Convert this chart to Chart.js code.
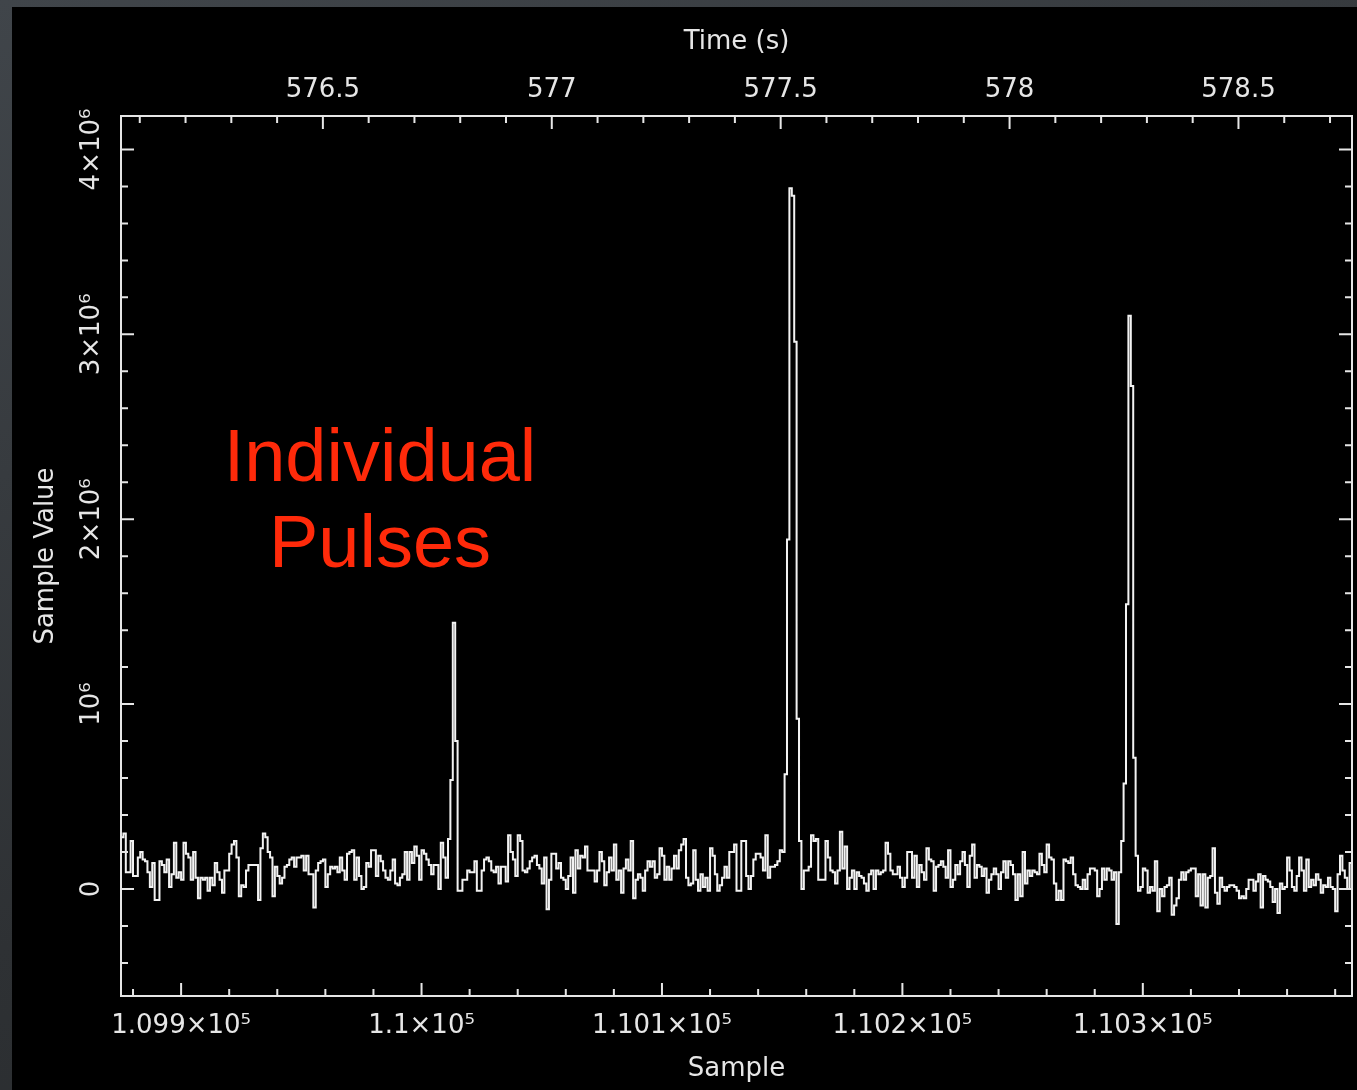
<!DOCTYPE html>
<html lang="en">
<head>
    <meta charset="UTF-8">
    <meta name="viewport" content="width=device-width, initial-scale=1.0">
    <title>Individual Pulses</title>
    <script src="https://cdn.jsdelivr.net/npm/chart.js@4"></script>

    <style>
body {
    margin: 0;
    width: 1357px;
    height: 1090px;
    overflow: hidden;
    position: relative;
    background: linear-gradient(160deg, #40454a 0%, #2e3134 60%, #25282a 100%);
}

.panel {
    position: absolute;
    left: 12px;
    top: 7px;
    width: 1345px;
    height: 1083px;
    background-color: #000;
}

#pulseChart {
    position: absolute;
    left: 0;
    top: 0;
}

.note {
    position: absolute;
    left: 168px;
    top: 406px;
    width: 400px;
    text-align: center;
    color: #ff2a0a;
    font-family: "Liberation Sans", Arial, sans-serif;
    font-size: 74px;
    line-height: 86px;
}
    </style>
</head>
<body>

    <div class="panel">
        <canvas id="pulseChart" width="1345" height="1083"></canvas>
        <div class="note">Individual<br>Pulses</div>
    </div>

    <script>
// Sample index range and value range of the plot
const firstSample = 109875;
const lastSample = 110387;
const valueRange = [-579000, 4181000];
// Time axis (top) covers the same samples
const timeRange = [576.059, 578.748];

// Labelled ticks on each axis
const sampleLabels = [109900, 110000, 110100, 110200, 110300];
const timeLabels = [576.5, 577, 577.5, 578, 578.5];
const valueLabels = [0, 1000000, 2000000, 3000000, 4000000];

// Sample values, in units of 10^4, one per sample starting at firstSample
const valueUnit = 1e4;
const sampleValues = [
    28, 30, 9, 9, 26, 7, 7, 17, 20, 16, 15, 9, 1, 14, -6, -6,
    15, 13, 9, 16, 1, 8, 25, 6, 9, 5, 25, 19, 17, 5, 20, 6,
    -5, 6, 5, 6, -1, 6, 2, 14, 9, 5, -2, 10, 10, 19, 24, 26,
    17, -4, 2, 1, 10, 13, 13, 13, 13, -6, 22, 30, 28, 20, 17, -4,
    12, 7, 3, 6, 12, 13, 16, 17, 12, 17, 17, 18, 10, 18, 8, 8,
    -10, 10, 14, 15, 16, 1, 8, 12, 11, 12, 9, 17, 10, 5, 19, 20,
    21, 5, 17, 7, 0, 1, 14, 12, 21, 21, 7, 18, 15, 10, 6, 5,
    10, 16, 3, 2, 6, 8, 20, 5, 20, 14, 23, 18, 5, 21, 19, 16,
    13, 8, 13, 13, 0, 25, 17, 6, 27, 59, 144, 80, -1, -1, 5, 5,
    10, 9, 9, 15, -1, -1, 10, 16, 17, 15, 10, 9, 12, 3, 12, 12,
    4, 29, 20, 16, 7, 29, 26, 10, 9, 11, 15, 17, 18, 13, 11, 3,
    17, -11, 5, 19, 19, 11, 14, 6, 5, 0, 7, 17, -2, 21, 11, 18,
    17, 23, 10, 10, 10, 4, 10, 20, 15, 2, 9, 17, 10, 24, 5, 10,
    -2, 11, 16, 10, 26, -5, 5, 8, 6, -1, 10, 15, 12, 15, 6, 8,
    22, 18, 5, 12, 5, 11, 18, 11, 21, 24, 27, 6, 2, 3, 21, 5,
    -1, 8, 1, 6, -1, 22, 18, 8, -1, 2, 6, 12, 6, 20, 20, 24,
    -1, -1, 26, 26, 7, 0, 7, 16, 19, 19, 17, 10, 29, 6, 12, 12,
    13, 15, 21, 20, 62, 189, 379, 375, 296, 92, 26, 0, 10, 10, 12, 29,
    26, 27, 5, 5, 5, 26, 17, 10, 9, 3, 10, 31, 11, 23, 0, 6,
    10, 0, 9, 7, 6, 3, -1, 8, 10, 0, 10, 8, 9, 10, 25, 19,
    10, 8, 8, 12, 6, 1, 6, 20, 20, 6, 18, 1, 13, 9, 5, 22,
    16, 15, -1, 12, 13, 15, 12, 6, 21, 1, 5, 13, 8, 15, 20, 13,
    1, 18, 24, 6, 13, 12, 7, 11, -2, 5, 8, 11, 8, 0, 9, 15,
    6, 15, 13, 8, -6, 8, -4, 20, 3, 10, 7, 10, 9, 8, 19, 13,
    9, 24, 17, 16, 3, -6, -1, -6, 16, 15, 14, 17, 8, 2, 1, 0,
    5, 0, 8, 11, 11, 10, -4, 0, 11, 5, 11, 10, 5, 9, -19, 9,
    26, 57, 154, 310, 272, 71, 18, -1, 1, 11, 10, -2, 1, -1, 15, -12,
    0, -4, 1, 2, 6, -14, -9, -5, 5, 9, 5, 9, 10, 11, 11, -4,
    8, -9, 8, -10, 6, 7, 22, -2, -8, 6, 1, -1, 1, 2, 2, 1,
    -1, -5, -4, -5, 0, 5, 5, -1, 4, 8, -10, 7, 5, 4, 1, -7,
    0, -13, 3, 0, 1, 17, 10, 1, -1, 7, 17, 10, -1, 16, 1, 5,
    2, 8, 5, -2, 2, 1, 6, 1, 0, -12, 8, 18, 10, 6, 0, 14
];

const axisColor = '#e6e6e6';
const lineColor = '#f2f2f2';
const axisFont = { family: 'DejaVu Sans', size: 26, weight: 'normal' };

// Each sample is a step starting at its own index; the last step closes at lastSample
const points = sampleValues.map((v, i) => ({ x: firstSample + i, y: v * valueUnit }));
points.push({ x: lastSample, y: sampleValues[sampleValues.length - 1] * valueUnit });

const SUP = { '0': '⁰', '1': '¹', '2': '²', '3': '³', '4': '⁴', '5': '⁵', '6': '⁶', '7': '⁷', '8': '⁸', '9': '⁹' };

function powerLabel(value, exponent) {
    if (value === 0) return '0';
    const mantissa = Number((value / Math.pow(10, exponent)).toFixed(4));
    const sup = String(exponent).split('').map(c => SUP[c]).join('');
    return mantissa === 1 ? '10' + sup : mantissa + '×10' + sup;
}

function isLabelled(list, value) {
    return list.some(l => Math.abs(l - value) < 1e-6);
}

// Ticks on whole multiples of step inside the scale range
function stepTicks(step) {
    return scale => {
        const ticks = [];
        for (let k = Math.ceil(scale.min / step - 1e-9); k * step <= scale.max + 1e-9; k++) {
            ticks.push({ value: Number((k * step).toFixed(6)) });
        }
        scale.ticks = ticks;
    };
}

// Inward tick marks on all four sides plus the plot frame
const frameTicks = {
    id: 'frameTicks',
    afterDatasetsDraw(chart) {
        const { ctx, chartArea: a, scales } = chart;
        const major = 13, minor = 7;
        ctx.save();
        ctx.strokeStyle = axisColor;
        ctx.lineWidth = 2;
        ctx.beginPath();
        scales.x.ticks.forEach(t => {
            const px = scales.x.getPixelForValue(t.value);
            const len = isLabelled(sampleLabels, t.value) ? major : minor;
            ctx.moveTo(px, a.bottom);
            ctx.lineTo(px, a.bottom - len);
        });
        scales.x2.ticks.forEach(t => {
            const px = scales.x2.getPixelForValue(t.value);
            const len = isLabelled(timeLabels, t.value) ? major : minor;
            ctx.moveTo(px, a.top);
            ctx.lineTo(px, a.top + len);
        });
        scales.y.ticks.forEach(t => {
            const py = scales.y.getPixelForValue(t.value);
            const len = isLabelled(valueLabels, t.value) ? major : minor;
            ctx.moveTo(a.left, py);
            ctx.lineTo(a.left + len, py);
            ctx.moveTo(a.right, py);
            ctx.lineTo(a.right - len, py);
        });
        ctx.stroke();
        ctx.strokeRect(a.left, a.top, a.right - a.left, a.bottom - a.top);
        ctx.restore();
    }
};

// Value labels on the left axis, turned to read upwards
const valueTickLabels = {
    id: 'valueTickLabels',
    afterDraw(chart) {
        const { ctx, chartArea: a, scales: { y } } = chart;
        ctx.save();
        ctx.fillStyle = axisColor;
        ctx.font = axisFont.size + 'px "' + axisFont.family + '"';
        ctx.textAlign = 'center';
        ctx.textBaseline = 'middle';
        valueLabels.forEach(v => {
            ctx.save();
            ctx.translate(a.left - 29, y.getPixelForValue(v));
            ctx.rotate(-Math.PI / 2);
            ctx.fillText(powerLabel(v, 6), 0, 0);
            ctx.restore();
        });
        ctx.restore();
    }
};

new Chart(document.getElementById('pulseChart'), {
    type: 'line',
    data: {
        datasets: [{
            data: points,
            xAxisID: 'x',
            yAxisID: 'y',
            stepped: true,
            borderColor: lineColor,
            borderWidth: 2,
            pointRadius: 0,
            fill: false
        }]
    },
    options: {
        responsive: false,
        animation: false,
        devicePixelRatio: 1,
        layout: { padding: { left: 0, top: 0, right: 5, bottom: 0 } },
        plugins: {
            legend: { display: false },
            tooltip: { enabled: false }
        },
        scales: {
            x: {
                type: 'linear',
                position: 'bottom',
                min: firstSample,
                max: lastSample,
                afterBuildTicks: stepTicks(20),
                grid: { display: false, drawTicks: false },
                border: { display: false },
                ticks: {
                    autoSkip: false,
                    maxRotation: 0,
                    padding: 15,
                    color: axisColor,
                    font: axisFont,
                    callback: v => isLabelled(sampleLabels, v) ? powerLabel(v, 5) : ''
                },
                title: { display: true, text: 'Sample', color: axisColor, font: axisFont, padding: 5 },
                afterFit(scale) { scale.height = 94; }
            },
            x2: {
                type: 'linear',
                position: 'top',
                min: timeRange[0],
                max: timeRange[1],
                afterBuildTicks: stepTicks(0.1),
                grid: { display: false, drawTicks: false },
                border: { display: false },
                ticks: {
                    autoSkip: false,
                    maxRotation: 0,
                    padding: 10,
                    color: axisColor,
                    font: axisFont,
                    callback: v => isLabelled(timeLabels, v) ? String(Number(v.toFixed(1))) : ''
                },
                title: { display: true, text: 'Time (s)', color: axisColor, font: axisFont, padding: 20 },
                afterFit(scale) { scale.height = 109; }
            },
            y: {
                type: 'linear',
                position: 'left',
                min: valueRange[0],
                max: valueRange[1],
                afterBuildTicks: stepTicks(200000),
                grid: { display: false, drawTicks: false },
                border: { display: false },
                ticks: { display: false },
                title: { display: true, text: 'Sample Value', color: axisColor, font: axisFont, padding: 19 },
                afterFit(scale) { scale.width = 109; }
            }
        }
    },
    plugins: [frameTicks, valueTickLabels]
});
    </script>
</body>
</html>
